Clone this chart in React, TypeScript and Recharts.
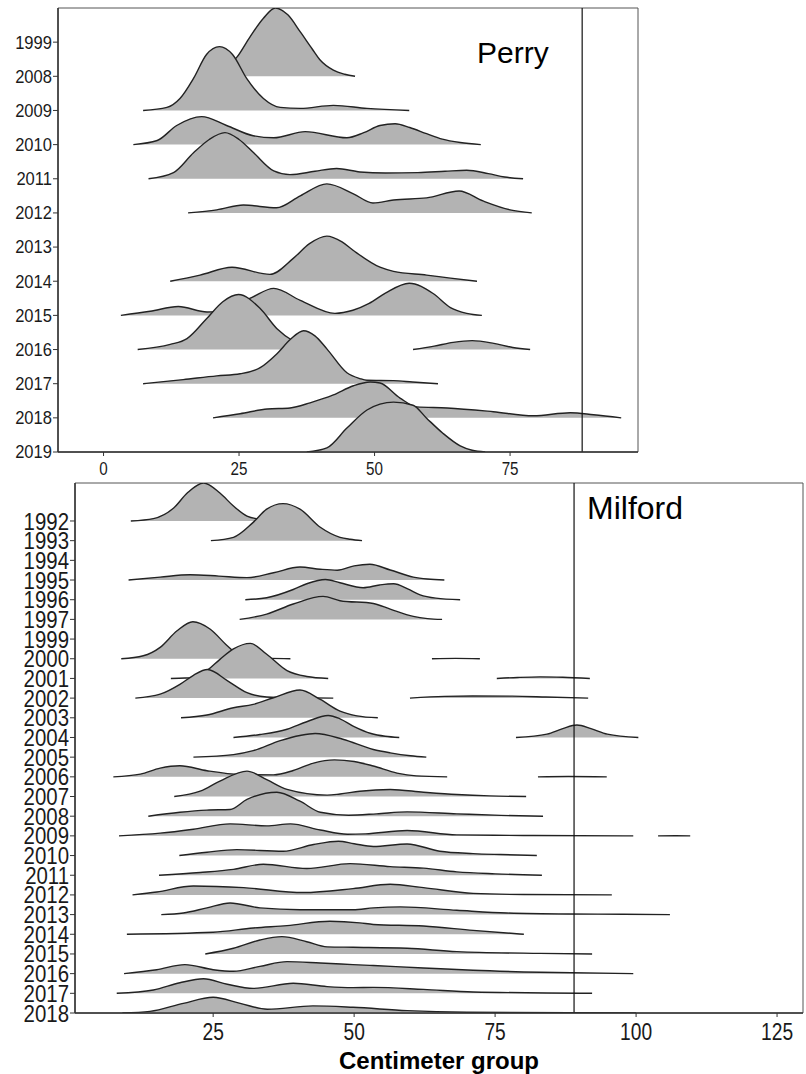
import { ComposedChart, Area, XAxis, YAxis, ReferenceLine, ReferenceArea } from 'recharts'

type Pt = [number, number]

// row labels, top to bottom
const PERRY_YEARS = ['1999', '2008', '2009', '2010', '2011', '2012', '2013', '2014', '2015', '2016', '2017', '2018', '2019']
const MILFORD_YEARS = [
  '1992', '1993', '1994', '1995', '1996', '1997', '1999', '2000', '2001', '2002', '2003', '2004', '2005',
  '2006', '2007', '2008', '2009', '2010', '2011', '2012', '2013', '2014', '2015', '2016', '2017', '2018',
]
const PERRY_X_TICKS = [0, 25, 50, 75]
const MILFORD_X_TICKS = [25, 50, 75, 100, 125]

// density profiles: [centimeter, height in rows]
const p2008: Pt[] = [[18.5, 0], [22, 0.2], [24.6, 0.56], [27, 1.15], [29.5, 1.7], [31.7, 2.0], [34, 1.8], [36.3, 1.3], [38.5, 0.8], [40, 0.47], [42.4, 0.18], [44.5, 0.06], [46.4, 0]]
const p2009: Pt[] = [[7.3, 0], [11.7, 0.09], [14.1, 0.35], [16.6, 0.94], [19, 1.64], [21.4, 1.87], [23.8, 1.64], [26.4, 0.94], [29.5, 0.35], [32.6, 0.09], [36.3, 0.06], [42.4, 0.15], [48.6, 0.06], [56.4, 0]]
const p2010: Pt[] = [[5.5, 0], [9.9, 0.12], [13.5, 0.56], [18.1, 0.82], [22.7, 0.56], [27.6, 0.26], [31.4, 0.2], [37.2, 0.38], [44.9, 0.2], [48, 0.35], [51, 0.56], [53.8, 0.61], [56.5, 0.5], [59.6, 0.32], [62.5, 0.16], [65.8, 0.06], [69.6, 0]]
const p2011: Pt[] = [[8.3, 0], [12.9, 0.18], [16.6, 0.76], [19.5, 1.15], [22.4, 1.35], [25, 1.15], [27.7, 0.76], [31.4, 0.23], [34.4, 0.12], [39, 0.22], [43, 0.3], [47.3, 0.2], [52, 0.17], [58, 0.18], [63, 0.22], [67, 0.25], [71, 0.15], [74, 0.05], [77.4, 0]]
const p2012: Pt[] = [[15.6, 0], [20.9, 0.09], [25.8, 0.23], [31.9, 0.15], [36.3, 0.5], [41.2, 0.85], [46.1, 0.56], [49.7, 0.29], [53.5, 0.38], [59.6, 0.44], [65.6, 0.64], [70, 0.35], [75, 0.09], [79, 0]]
const p2014: Pt[] = [[12.3, 0], [17.8, 0.18], [23.7, 0.41], [30.7, 0.2], [35, 0.67], [38, 1.1], [41.2, 1.32], [44, 1.15], [46.1, 0.9], [51, 0.41], [53.5, 0.29], [59.6, 0.18], [64, 0.09], [68.9, 0]]
const p2015: Pt[] = [[3.2, 0], [8.6, 0.12], [13.8, 0.26], [19.1, 0.1], [23, 0.2], [27.4, 0.53], [31.4, 0.79], [36.3, 0.44], [42.7, 0.06], [46, 0.15], [49, 0.35], [52, 0.65], [56.4, 0.94], [60.8, 0.64], [64, 0.23], [67, 0.06], [69.8, 0]]
const p2016: Pt[] = [[6.3, 0], [12.3, 0.15], [15.4, 0.32], [19, 0.9], [22, 1.4], [24.9, 1.61], [28.9, 1.2], [32, 0.61], [35, 0.25], [38, 0.06], [40.5, 0]]
const p2016b: Pt[] = [[57.1, 0], [61, 0.1], [64.5, 0.21], [68, 0.26], [72, 0.18], [75.5, 0.06], [78.7, 0]]
const p2017: Pt[] = [[7.3, 0], [14.7, 0.12], [20.9, 0.23], [25.2, 0.29], [28.9, 0.47], [32, 0.88], [34.5, 1.3], [36.9, 1.55], [39, 1.4], [41.2, 1.02], [44.9, 0.32], [47.3, 0.15], [48.6, 0.1], [53.5, 0.09], [57, 0.05], [61.7, 0]]
const p2018: Pt[] = [[20.2, 0], [25.2, 0.12], [30.2, 0.26], [34.4, 0.29], [38.1, 0.44], [42.4, 0.67], [46.1, 0.94], [49.2, 1.05], [51, 1.02], [54.7, 0.58], [57.8, 0.32], [63.4, 0.29], [71.9, 0.18], [79.3, 0.06], [86.1, 0.15], [90.4, 0.09], [95.5, 0]]
const p2019: Pt[] = [[37.5, 0], [41.2, 0.12], [44.9, 0.7], [48.6, 1.23], [51, 1.4], [53.5, 1.46], [57.1, 1.37], [59.6, 0.99], [62.6, 0.55], [65.8, 0.18], [68, 0.05], [70.4, 0]]

const m1992: Pt[] = [[10.4, 0], [14.4, 0.12], [18, 0.66], [20.4, 1.42], [23.3, 1.93], [26.2, 1.42], [28.6, 0.76], [31, 0.25], [33.5, 0.08], [36, 0.02], [38, 0]]
const m1993: Pt[] = [[24.6, 0], [28.6, 0.17], [32.1, 0.93], [34.5, 1.6], [37.4, 1.88], [40.4, 1.6], [44, 0.68], [47.5, 0.17], [49.3, 0.07], [51.4, 0]]
const m1995: Pt[] = [[10, 0], [15.6, 0.15], [20.9, 0.27], [26, 0.2], [31, 0.12], [35.7, 0.37], [40.4, 0.66], [44, 0.55], [47, 0.5], [50, 0.72], [52.8, 0.8], [56.4, 0.51], [60.5, 0.15], [63, 0.05], [66, 0]]
const m1996: Pt[] = [[30.7, 0], [34.5, 0.1], [39.2, 0.52], [41.6, 0.81], [44.9, 1.03], [47.5, 0.86], [51.6, 0.61], [54.5, 0.75], [57, 0.81], [59.5, 0.55], [61.7, 0.25], [64.5, 0.08], [68.8, 0]]
const m1997: Pt[] = [[29.7, 0], [34.5, 0.27], [39.2, 0.78], [44.5, 1.17], [47.5, 0.95], [53.4, 0.81], [56.4, 0.52], [60.5, 0.15], [63, 0.04], [65.6, 0]]
const m2000: Pt[] = [[8.7, 0], [12.6, 0.15], [15.6, 0.58], [18.6, 1.42], [21.4, 1.88], [24.5, 1.5], [27.5, 0.66], [29.8, 0.15], [32, 0.05], [35, 0.02], [38.7, 0]]
const m2000b: Pt[] = [[63.8, 0], [68, 0.02], [72.3, 0]]
const m2001: Pt[] = [[17.5, 0], [20, 0.02], [22, 0.08], [23.9, 0.4], [26.2, 0.97], [28.6, 1.5], [31.6, 1.78], [34.5, 1.23], [38.1, 0.4], [41.6, 0.1], [45.4, 0]]
const m2001b: Pt[] = [[75.3, 0], [79, 0.05], [83, 0.08], [87, 0.06], [91.8, 0]]
const m2002: Pt[] = [[11.2, 0], [15.6, 0.2], [19.1, 0.7], [21.5, 1.16], [24, 1.45], [27.5, 0.89], [31, 0.28], [34.5, 0.06], [40, 0.02], [46.3, 0]]
const m2002b: Pt[] = [[59.9, 0], [66, 0.09], [71, 0.11], [78, 0.1], [84, 0.06], [91.5, 0]]
const m2003: Pt[] = [[19.3, 0], [23.9, 0.14], [28.6, 0.51], [32.1, 0.68], [35.7, 1.02], [40.4, 1.41], [44, 0.93], [47.5, 0.34], [50.5, 0.1], [54.2, 0]]
const m2004: Pt[] = [[28.6, 0], [33.3, 0.15], [38.1, 0.42], [41.6, 0.8], [45.4, 1.12], [47.5, 0.95], [50, 0.55], [53, 0.2], [55.5, 0.06], [58, 0]]
const m2004b: Pt[] = [[78.7, 0], [84.2, 0.17], [87, 0.45], [89.5, 0.63], [92, 0.45], [94.9, 0.17], [100.4, 0]]
const m2005: Pt[] = [[21.5, 0], [28.6, 0.13], [32.1, 0.33], [36.9, 0.84], [40.4, 1.1], [43.1, 1.2], [48, 0.91], [53.4, 0.39], [56.4, 0.22], [60, 0.07], [62.8, 0]]
const m2006: Pt[] = [[7.3, 0], [12.1, 0.14], [15.6, 0.44], [19.1, 0.56], [23.9, 0.31], [29.8, 0.12], [35.7, 0.1], [39.2, 0.32], [42.8, 0.7], [46.5, 0.86], [50, 0.78], [53.4, 0.55], [57.6, 0.19], [61, 0.05], [66.5, 0]]
const m2006b: Pt[] = [[82.6, 0], [88, 0.02], [94.8, 0]]
const m2007: Pt[] = [[18.1, 0], [22.7, 0.27], [26.2, 0.78], [31, 1.29], [34.5, 0.86], [38.1, 0.36], [45.2, 0.07], [47.5, 0.13], [51, 0.27], [56.4, 0.36], [62.3, 0.22], [68.2, 0.1], [74, 0.03], [80.5, 0]]
const m2008: Pt[] = [[13.5, 0], [19.1, 0.2], [23.9, 0.31], [28, 0.34], [31, 0.85], [36.3, 1.22], [40.4, 0.76], [44, 0.2], [49, 0.05], [54, 0.12], [59.4, 0.22], [68.2, 0.12], [76, 0.04], [83.5, 0]]
const m2009: Pt[] = [[8.3, 0], [15.6, 0.14], [21.5, 0.34], [28, 0.61], [34.5, 0.51], [38.7, 0.61], [44, 0.3], [48.8, 0.08], [52, 0.1], [59.4, 0.27], [68.2, 0.05], [80, 0.02], [99.5, 0]]
const m2009b: Pt[] = [[103.9, 0], [107, 0.01], [109.6, 0]]
const m2010: Pt[] = [[19, 0], [23.9, 0.17], [29.2, 0.3], [37.4, 0.22], [42.8, 0.56], [47.2, 0.73], [50, 0.6], [53.4, 0.46], [59.4, 0.59], [65.2, 0.22], [71.1, 0.1], [76, 0.05], [82.4, 0]]
const m2011: Pt[] = [[15.4, 0], [22.7, 0.14], [28.6, 0.3], [33.9, 0.56], [41.6, 0.34], [49.3, 0.59], [56.4, 0.44], [62.3, 0.36], [68.2, 0.17], [75, 0.07], [83.3, 0]]
const m2012: Pt[] = [[10.7, 0], [15, 0.15], [21.5, 0.45], [30.4, 0.37], [41, 0.12], [49.8, 0.32], [56.4, 0.54], [62.3, 0.37], [71.1, 0.08], [80, 0.02], [95.7, 0]]
const m2013: Pt[] = [[15.8, 0], [19.7, 0.08], [23.9, 0.34], [28, 0.59], [33.3, 0.34], [40.4, 0.25], [49.8, 0.25], [53.4, 0.34], [58.2, 0.39], [68.2, 0.22], [77.1, 0.08], [88, 0.03], [97.7, 0.02], [106, 0]]
const m2014: Pt[] = [[9.7, 0], [25, 0.1], [32.1, 0.32], [38.1, 0.44], [45.7, 0.66], [51, 0.58], [53.4, 0.5], [62.3, 0.42], [71.1, 0.2], [80.1, 0]]
const m2015: Pt[] = [[23.6, 0], [28.6, 0.29], [33.3, 0.71], [37.2, 0.88], [41.6, 0.62], [45.2, 0.36], [49.8, 0.34], [59.4, 0.29], [68.2, 0.12], [83, 0.03], [92.2, 0]]
const m2016: Pt[] = [[9.2, 0], [15, 0.2], [20, 0.46], [25, 0.2], [28.6, 0.12], [33.3, 0.37], [38.1, 0.61], [44, 0.54], [49.8, 0.46], [53.4, 0.41], [62.3, 0.29], [71.1, 0.17], [83, 0.07], [99.5, 0]]
const m2017: Pt[] = [[7.9, 0], [14.4, 0.17], [19.1, 0.54], [23.3, 0.74], [27.5, 0.46], [32.1, 0.25], [39.2, 0.51], [45.2, 0.34], [49.8, 0.29], [53.4, 0.3], [62.3, 0.2], [71.1, 0.07], [92.2, 0]]
const m2018: Pt[] = [[8.9, 0], [13.8, 0.08], [19.7, 0.49], [25, 0.8], [29.8, 0.49], [34.6, 0.19], [42.7, 0.36], [49.8, 0.29], [59.4, 0.12], [70, 0.04], [100, 0]]

// listed top to bottom so lower rows are drawn over upper ones
const PERRY_RIDGES: [string, Pt[]][] = [
  ['2008', p2008], ['2009', p2009], ['2010', p2010], ['2011', p2011], ['2012', p2012], ['2014', p2014],
  ['2015', p2015], ['2016', p2016], ['2016', p2016b], ['2017', p2017], ['2018', p2018], ['2019', p2019],
]
const MILFORD_RIDGES: [string, Pt[]][] = [
  ['1992', m1992], ['1993', m1993], ['1995', m1995], ['1996', m1996], ['1997', m1997],
  ['2000', m2000], ['2000', m2000b], ['2001', m2001], ['2001', m2001b], ['2002', m2002], ['2002', m2002b],
  ['2003', m2003], ['2004', m2004], ['2004', m2004b], ['2005', m2005], ['2006', m2006], ['2006', m2006b],
  ['2007', m2007], ['2008', m2008], ['2009', m2009], ['2009', m2009b], ['2010', m2010], ['2011', m2011],
  ['2012', m2012], ['2013', m2013], ['2014', m2014], ['2015', m2015], ['2016', m2016], ['2017', m2017], ['2018', m2018],
]

const FONT = '"Liberation Sans", Arial, sans-serif'
const INK = '#1a1a1a'

function buildSeries(years: string[], ridges: [string, Pt[]][]) {
  return ridges.map(([year, pts], i) => {
    const base = years.length - 1 - years.indexOf(year)
    return { key: `${year}-${i}`, base, data: pts.map(([x, h]) => ({ x, y: base + h })) }
  })
}

// narrowed tick text, the original figure uses a condensed face
const XTick = ({ x, y, payload, fs, sx }: any) => (
  <text
    x={x}
    y={y}
    dy="0.71em"
    textAnchor="middle"
    fontSize={fs}
    fill={INK}
    transform={`translate(${x} 0) scale(${sx} 1) translate(${-x} 0)`}
  >
    {payload.value}
  </text>
)

const YTick = ({ x, y, payload, fs, sx, labels }: any) => (
  <text
    x={x}
    y={y}
    dy="0.355em"
    textAnchor="end"
    fontSize={fs}
    fill={INK}
    transform={`translate(${x} 0) scale(${sx} 1) translate(${-x} 0)`}
  >
    {labels[labels.length - 1 - payload.value]}
  </text>
)

interface PanelProps {
  years: string[]
  ridges: [string, Pt[]][]
  xTicks: number[]
  xDomain: [number, number]
  yMax: number
  cutoff: number
  width: number
  height: number
  margin: { top: number; right: number; left: number; bottom: number }
  yWidth: number
  xHeight: number
  yFont: number
  ySx: number
  xFont: number
  xLabel?: string
}

function RidgePanel(p: PanelProps) {
  const series = buildSeries(p.years, p.ridges)
  const yTicks = p.years.map((_, i) => i)
  return (
    <ComposedChart width={p.width} height={p.height} margin={p.margin}>
      <XAxis
        type="number"
        dataKey="x"
        domain={p.xDomain}
        ticks={p.xTicks}
        allowDataOverflow
        interval={0}
        tickSize={4}
        tickMargin={6}
        height={p.xHeight}
        axisLine={{ stroke: '#333', strokeWidth: 1.5 }}
        tickLine={{ stroke: '#333' }}
        tick={<XTick fs={p.xFont} sx={0.8} />}
        label={p.xLabel ? { value: p.xLabel, position: 'insideBottom', offset: 5, fontSize: 24, fontWeight: 'bold', fill: '#000' } : undefined}
      />
      <YAxis
        type="number"
        domain={[0, p.yMax]}
        ticks={yTicks}
        interval={0}
        allowDataOverflow
        width={p.yWidth}
        tickSize={5}
        tickMargin={1}
        axisLine={{ stroke: '#333', strokeWidth: 1.5 }}
        tickLine={{ stroke: '#333' }}
        tick={<YTick fs={p.yFont} sx={p.ySx} labels={p.years} />}
      />
      <ReferenceArea x1={p.xDomain[0]} x2={p.xDomain[1]} y1={0} y2={p.yMax} fill="none" stroke="#555" strokeWidth={1} ifOverflow="visible" />
      {series.map((s) => (
        <Area
          key={s.key}
          data={s.data}
          dataKey="y"
          type="monotone"
          baseValue={s.base}
          fill="#b3b3b3"
          fillOpacity={1}
          stroke="#222"
          strokeWidth={1.4}
          dot={false}
          activeDot={false}
          isAnimationActive={false}
        />
      ))}
      <ReferenceLine x={p.cutoff} stroke="#111" strokeWidth={1.2} ifOverflow="visible" />
    </ComposedChart>
  )
}

export default function App() {
  return (
    <div style={{ position: 'absolute', left: 0, top: 0, width: 806, height: 1074, background: '#fff', fontFamily: FONT }}>
      <div style={{ position: 'absolute', left: 0, top: 0 }}>
        <RidgePanel
          years={PERRY_YEARS}
          ridges={PERRY_RIDGES}
          xTicks={PERRY_X_TICKS}
          xDomain={[-8.4, 98.6]}
          yMax={13}
          cutoff={88.3}
          width={650}
          height={480}
          margin={{ top: 8, right: 12, left: 0, bottom: 0 }}
          yWidth={58}
          xHeight={28}
          yFont={18}
          ySx={0.92}
          xFont={19}
        />
      </div>
      <div style={{ position: 'absolute', left: 477, top: 37.6, fontSize: 30, lineHeight: '30px', color: '#000' }}>Perry</div>
      <div style={{ position: 'absolute', left: 0, top: 478 }}>
        <RidgePanel
          years={MILFORD_YEARS}
          ridges={MILFORD_RIDGES}
          xTicks={MILFORD_X_TICKS}
          xDomain={[0.5, 129.6]}
          yMax={26.93}
          cutoff={89}
          width={806}
          height={596}
          margin={{ top: 5, right: 3, left: 0, bottom: 0 }}
          yWidth={75}
          xHeight={61}
          yFont={24}
          ySx={0.85}
          xFont={24}
          xLabel="Centimeter group"
        />
      </div>
      <div style={{ position: 'absolute', left: 587, top: 492, fontSize: 32, lineHeight: '32px', color: '#000' }}>Milford</div>
    </div>
  )
}
